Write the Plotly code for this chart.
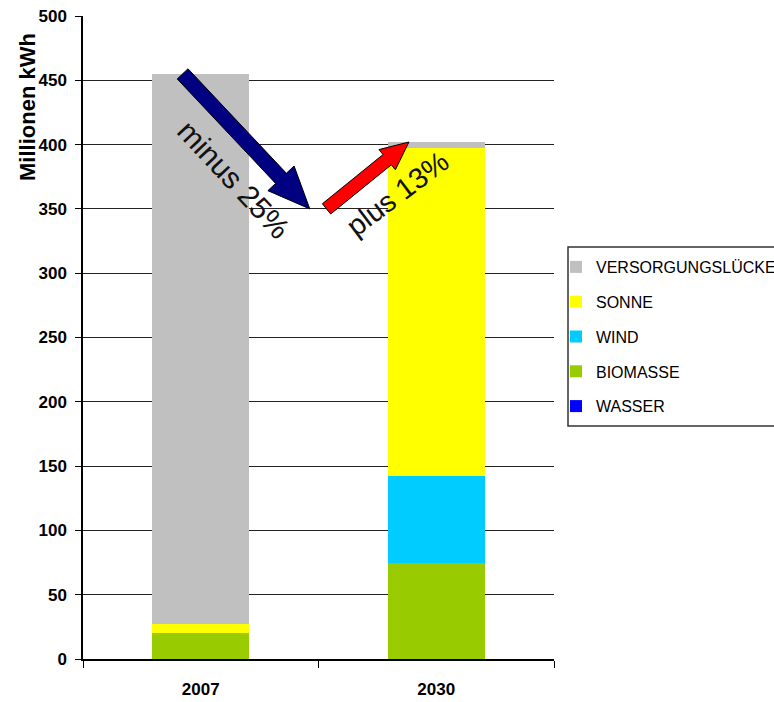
import numpy as np
import plotly.graph_objects as go

# ---------------- data ----------------
years = ["2007", "2030"]
wasser = [0, 0]
biomasse = [20, 75]
wind = [0, 67]
sonne = [7, 255]
versorgung = [428, 5]
y_ticks = list(range(0, 501, 50))
arrow_level = 350          # level the two arrows meet at
labels = {"down": "minus 25%", "up": "plus 13%"}

series = [
    ("WASSER", wasser, "#0000FF"),
    ("BIOMASSE", biomasse, "#99CC00"),
    ("WIND", wind, "#00CCFF"),
    ("SONNE", sonne, "#FFFF00"),
    ("VERSORGUNGSLÜCKE", versorgung, "#C0C0C0"),
]

# ---------------- layout geometry ----------------
W, H = 774, 702
L, R, T, B = 83, 220, 16, 43
PW, PH = W - L - R, H - T - B
YMAX = 500
REG = "Liberation Sans, Arial, sans-serif"


def px2paper(x, y):
    return (x - L) / PW, (T + PH - y) / PH


def val2py(v):
    return T + PH - v / YMAX * PH


def cat2px(c):
    # category index -> pixel x (2 categories, range -0.5..1.5)
    return L + (c + 0.5) / 2 * PW


def arrow_path(x0, y0, x1, y1, w, hw, hl):
    p0 = np.array([x0, y0], float)
    p1 = np.array([x1, y1], float)
    u = (p1 - p0) / np.linalg.norm(p1 - p0)
    n = np.array([-u[1], u[0]])
    base = p1 - u * hl
    pts = [p0 + n * w, base + n * w, base + n * hw, p1,
           base - n * hw, base - n * w, p0 - n * w]
    s = ""
    for i, p in enumerate(pts):
        px, py = px2paper(*p)
        s += ("M" if i == 0 else "L") + f"{px:.5f},{py:.5f} "
    return s + "Z"


totals = [sum(s[1][i] for s in series) for i in range(len(years))]

fig = go.Figure()
n_series = len(series)
for k, (name, vals, col) in enumerate(series):
    fig.add_trace(go.Bar(
        x=years, y=vals, name=name, marker=dict(color=col, line=dict(width=0)),
        legendgroup=name, legendrank=n_series - k,
    ))

shapes = []
# blue "minus" arrow: from top of 2007 bar down to arrow_level
shapes.append(dict(type="path", xref="paper", yref="paper",
                   path=arrow_path(cat2px(-0.077), val2py(totals[0]),
                                   cat2px(0.463), val2py(arrow_level), 7.4, 18, 42),
                   fillcolor="#000080", line=dict(color="#000000", width=1), layer="above"))
# red "plus" arrow: from arrow_level up to top of 2030 bar
shapes.append(dict(type="path", xref="paper", yref="paper",
                   path=arrow_path(cat2px(0.534), val2py(arrow_level),
                                   cat2px(0.884), val2py(totals[1]), 6.6, 13, 28),
                   fillcolor="#FF0000", line=dict(color="#000000", width=1), layer="above"))
# legend frame
lx0, ly0 = px2paper(568, 247)
lx1, ly1 = px2paper(790, 426)
shapes.append(dict(type="rect", xref="paper", yref="paper", x0=lx0, y0=ly1, x1=lx1, y1=ly0,
                   line=dict(color="#333333", width=1.5), fillcolor="rgba(0,0,0,0)"))

ann = []
ax, ay = px2paper(234, 179)
ann.append(dict(text=labels["down"], x=ax, y=ay, xref="paper", yref="paper", showarrow=False,
                xanchor="center", yanchor="middle",
                textangle=47, font=dict(family=REG, size=30, color="#111111")))
ax, ay = px2paper(397, 194)
ann.append(dict(text=labels["up"], x=ax, y=ay, xref="paper", yref="paper", showarrow=False,
                xanchor="center", yanchor="middle",
                textangle=-37, font=dict(family=REG, size=29, color="#111111")))
tx, ty = px2paper(27, 107)
ann.append(dict(text="Millionen kWh", x=tx, y=ty, xref="paper", yref="paper",
                xanchor="center", yanchor="middle",
                showarrow=False, textangle=-90,
                font=dict(family=REG, size=22, color="#000000", weight="bold")))

legx, legy = px2paper(556, 250)

fig.update_layout(
    width=W, height=H,
    margin=dict(l=L, r=R, t=T, b=B, autoexpand=False),
    paper_bgcolor="white", plot_bgcolor="white",
    barmode="stack", bargap=0.59,
    shapes=shapes, annotations=ann,
    showlegend=True,
    legend=dict(x=legx, y=legy, xanchor="left", yanchor="top",
                traceorder="grouped", tracegroupgap=11,
                bgcolor="rgba(0,0,0,0)", borderwidth=0,
                font=dict(family=REG, size=16, color="#000000")),
    xaxis=dict(showline=True, linecolor="#000000", linewidth=1.5,
               ticks="outside", tickson="boundaries", ticklen=7, tickcolor="#000000",
               tickfont=dict(family=REG, size=17, color="#000000", weight="bold"),
               ticklabelstandoff=14,
               showgrid=False),
    yaxis=dict(range=[0, YMAX], tickvals=y_ticks, showline=True, linecolor="#000000",
               linewidth=1.5, ticks="outside", ticklen=6, tickcolor="#000000",
               showgrid=True, gridcolor="#222222", gridwidth=1,
               zeroline=False,
               tickfont=dict(family=REG, size=17, color="#000000", weight="bold"),
               ticklabelstandoff=5),
)

fig.write_html("out.html")
